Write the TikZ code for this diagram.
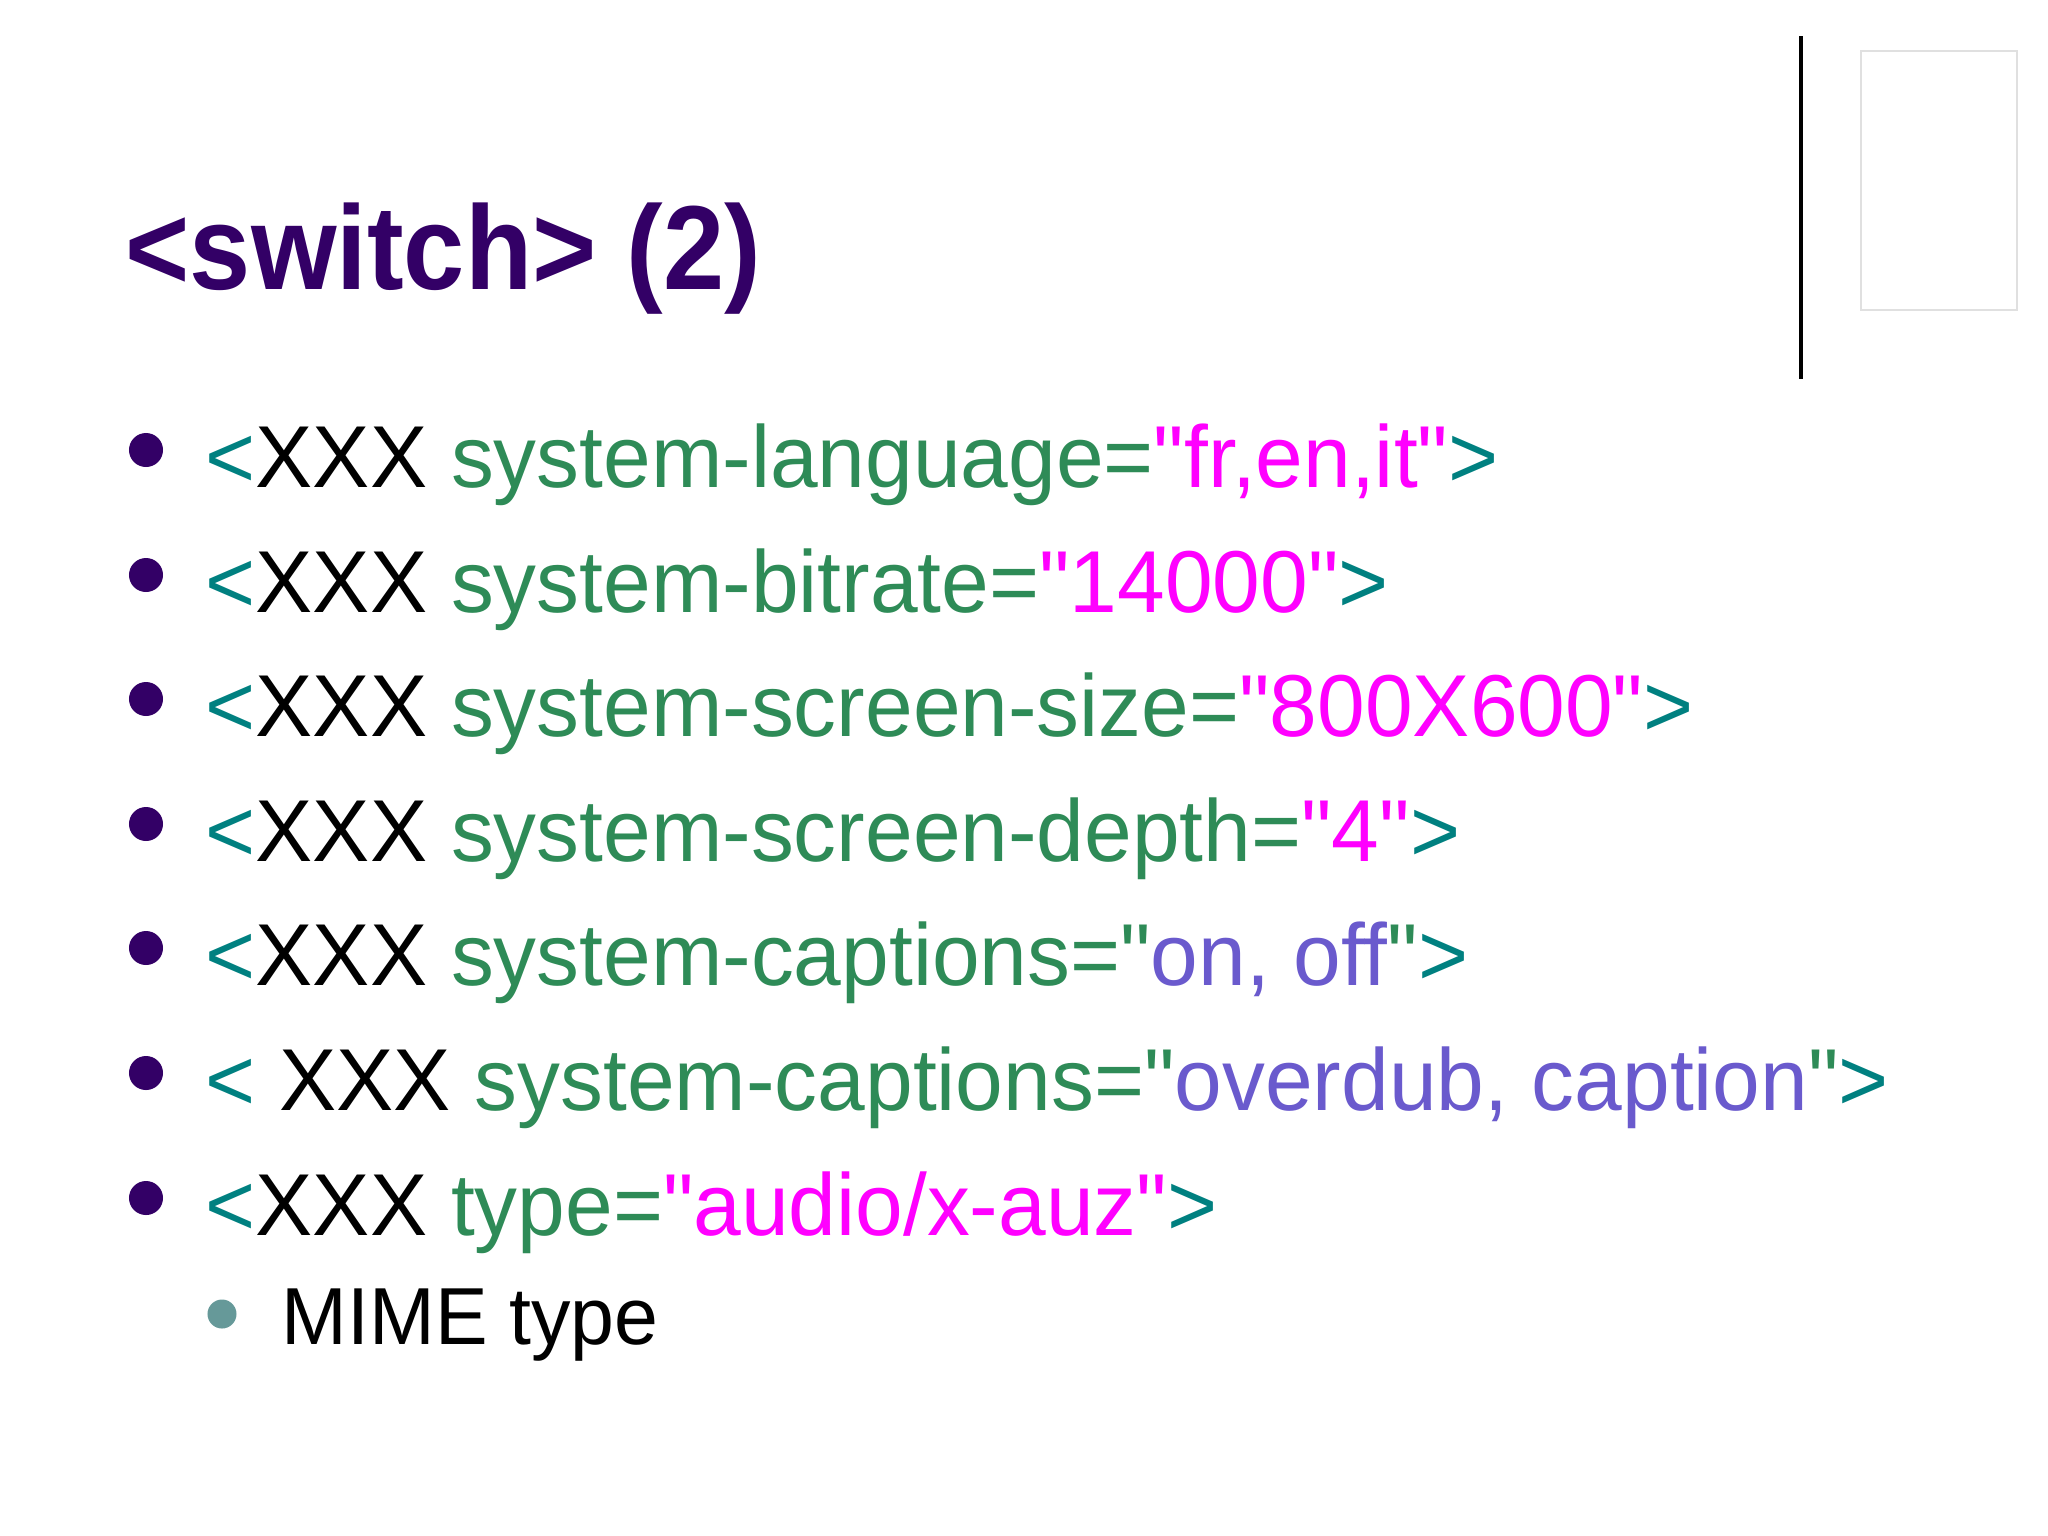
\documentclass[tikz,border=0pt]{standalone}
\usepackage{fontspec}
\setmainfont{Liberation Sans}
\newfontfamily\linefont[FakeStretch=0.975]{Liberation Sans}
\newfontfamily\titlefont[FakeStretch=0.92]{Liberation Sans}
\definecolor{ttl}{HTML}{330066}
\definecolor{tl}{HTML}{008080}
\definecolor{gr}{HTML}{2E8B57}
\definecolor{mg}{HTML}{FF00FF}
\definecolor{sb}{HTML}{6A5ACD}
\definecolor{sub}{HTML}{669999}
\newcommand{\qq}{\symbol{34}}
\begin{document}
\begin{tikzpicture}[x=0.01cm,y=-0.01cm,
  line/.style={anchor=base west,inner sep=0pt,font=\linefont\fontsize{25}{30}\selectfont},
  dot/.style={circle,fill=ttl,inner sep=0pt,minimum size=0.34cm}]
\useasboundingbox (0,0) rectangle (2048,1536);
\node[anchor=base west,inner sep=0pt,text=ttl,font=\titlefont\fontsize{34}{40}\selectfont\bfseries] (title) at (125,289) {<switch> (2)};
\draw[line width=1pt] (1801,36) coordinate (v1) -- (1801,379) coordinate (v2);
\draw[black!12] (1861,51) rectangle (2017,310);
\node[dot] (b1) at (146,450) {};
\node[line] (l1) at (205,487) {\textcolor{tl}{<}XXX \textcolor{gr}{system-language=}\textcolor{mg}{\qq fr,en,it\qq}\textcolor{tl}{>}};
\node[dot] (b2) at (146,575) {};
\node[line] (l2) at (205,612) {\textcolor{tl}{<}XXX \textcolor{gr}{system-bitrate=}\textcolor{mg}{\qq 14000\qq}\textcolor{tl}{>}};
\node[dot] (b3) at (146,699) {};
\node[line] (l3) at (205,736) {\textcolor{tl}{<}XXX \textcolor{gr}{system-screen-size=}\textcolor{mg}{\qq 800X600\qq}\textcolor{tl}{>}};
\node[dot] (b4) at (146,824) {};
\node[line] (l4) at (205,861) {\textcolor{tl}{<}XXX \textcolor{gr}{system-screen-depth=}\textcolor{mg}{\qq 4\qq}\textcolor{tl}{>}};
\node[dot] (b5) at (146,948) {};
\node[line] (l5) at (205,985) {\textcolor{tl}{<}XXX \textcolor{gr}{system-captions=\qq}\textcolor{sb}{on, off}\textcolor{gr}{\qq}\textcolor{tl}{>}};
\node[dot] (b6) at (146,1073) {};
\node[line] (l6) at (205,1110) {\textcolor{tl}{<} XXX \textcolor{gr}{system-captions=\qq}\textcolor{sb}{overdub, caption}\textcolor{gr}{\qq}\textcolor{tl}{>}};
\node[dot] (b7) at (146,1198) {};
\node[line] (l7) at (205,1235) {\textcolor{tl}{<}XXX \textcolor{gr}{type=}\textcolor{mg}{\qq audio/x-auz\qq}\textcolor{tl}{>}};
\node[circle,fill=sub,inner sep=0pt,minimum size=0.29cm] (s1) at (222,1314) {};
\node[anchor=base west,inner sep=0pt,font=\linefont\fontsize{23}{28}\selectfont] (m1) at (281,1344) {MIME type};
\end{tikzpicture}
\end{document}
